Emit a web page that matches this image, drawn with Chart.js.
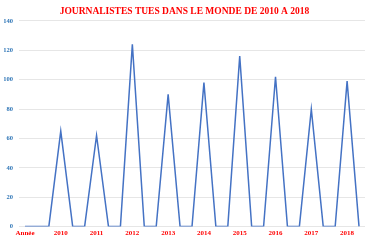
<!DOCTYPE html>
<html>
<head>
<meta charset="utf-8">
<script src="https://cdn.jsdelivr.net/npm/chart.js@4"></script>
<style>
    html, body { margin: 0; padding: 0; background: #fff; }
    #wrap { width: 370px; height: 241px; }
</style>
</head>
<body>
<div id="wrap"><canvas id="chart"></canvas></div>
<script>
// one peak per year, with two zero points between peaks
const years = ['2010', '2011', '2012', '2013', '2014', '2015', '2016', '2017', '2018'];
const killed = [65, 62, 124, 90, 98, 116, 102, 80, 99];
const yTicks = [0, 20, 40, 60, 80, 100, 120, 140];

const labels = ['Année', '', ''];
const values = [0, 0, 0];
years.forEach((y, i) => {
    labels.push(y);
    values.push(killed[i]);
    if (i < years.length - 1) {
        labels.push('', '');
        values.push(0, 0);
    } else {
        labels.push('');
        values.push(0);
    }
});

const serif = '"Liberation Serif", "Times New Roman", serif';

new Chart(document.getElementById('chart'), {
    type: 'line',
    data: {
        labels: labels,
        datasets: [{
            data: values,
            borderColor: '#4472c4',
            borderWidth: 1.5,
            pointRadius: 0,
            tension: 0,
            fill: false,
        }]
    },
    options: {
        responsive: true,
        maintainAspectRatio: false,
        animation: false,
        layout: { padding: { left: 4, right: 5, top: 0, bottom: 2 } },
        plugins: {
            legend: { display: false },
            tooltip: { enabled: false },
            title: {
                display: true,
                text: 'JOURNALISTES TUES DANS LE MONDE DE 2010 A 2018',
                color: '#ff0000',
                font: { family: serif, size: 9.5, weight: 'bold' },
                padding: { top: 6, bottom: 3.5 },
            },
        },
        scales: {
            x: {
                offset: true,
                grid: { display: false, drawTicks: false },
                border: { display: false },
                ticks: {
                    autoSkip: false,
                    maxRotation: 0,
                    color: '#ff0000',
                    padding: 2,
                    font: { family: serif, size: 7, weight: 'bold' },
                },
            },
            y: {
                min: 0,
                max: 140,
                afterBuildTicks: axis => { axis.ticks = yTicks.map(v => ({ value: v })); },
                afterFit: axis => { axis.width = 15; },
                grid: { color: '#e6e6e6', drawTicks: false },
                border: { display: false },
                ticks: {
                    color: '#2e75b6',
                    padding: 6,
                    font: { family: serif, size: 6.5, weight: 'bold' },
                },
            },
        },
    }
});
</script>
</body>
</html>
